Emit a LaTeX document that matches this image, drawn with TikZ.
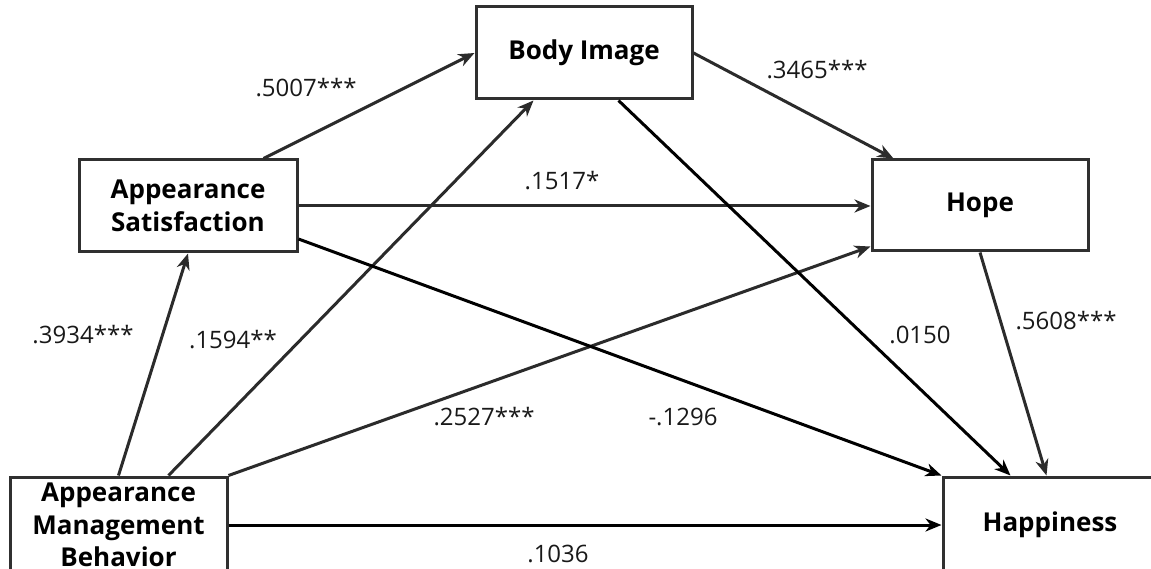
\documentclass[tikz,border=0pt]{standalone}
\usepackage{fontspec}
\setmainfont{Open Sans}
\usetikzlibrary{arrows.meta,calc}
\definecolor{boxc}{HTML}{303030}
\definecolor{linec}{HTML}{2B2B2B}
\begin{document}
\begin{tikzpicture}[x=1pt,y=-1pt,
  box/.style={draw=boxc, line width=3pt, fill=white, align=center,
    font=\fontsize{26}{32.5}\selectfont\bfseries, inner sep=0pt},
  arr/.style={-{Stealth[length=16pt,width=13pt,inset=5pt]}, line width=3pt, draw=linec},
  arrk/.style={arr, draw=black},
  lab/.style={font=\fontsize{24}{28}\selectfont, inner sep=0pt, text=black!90}]
\useasboundingbox (0,0) rectangle (1151,569);
\clip (0,0) rectangle (1151,569);
\fill[white] (0,0) rectangle (1151,569);

% boxes
\node[box, minimum width=216pt, minimum height=92pt] (BI) at (584,53) {Body Image};
\node[box, minimum width=218pt, minimum height=92pt] (AS) at (188,206) {Appearance\\Satisfaction};
\node[box, minimum width=216pt, minimum height=91pt] (HO) at (980,205.5) {Hope};
\node[box, minimum width=217pt, minimum height=96pt] (AMB) at (118.5,525) {Appearance\\Management\\Behavior};
\node[box, minimum width=214pt, minimum height=96pt] (HA) at (1050,525) {Happiness};

% connectors
\draw[arr] ([xshift=186pt]AS.north west) -- (BI.west);
\draw[arr] (BI.east) -- ([xshift=23pt]HO.north west);
\draw[arr] (AMB.north) -- (AS.south);
\draw[arr] ([xshift=160pt]AMB.north west) -- ([xshift=59pt]BI.south west);
\draw[arr] (AMB.north east) -- ([yshift=6pt]HO.south west);
\draw[arrk] (AMB.east) -- (AMB.east -| HA.west);
\draw[arr] (AS.east) -- (AS.east -| HO.west);
\draw[arrk] ([yshift=-33pt]AS.east) -- (HA.north west);
\draw[arrk] ([xshift=144pt]BI.south west) -- ([xshift=69pt]HA.north west);
\draw[arr] (HO.south) -- ([xshift=105pt]HA.north west);

% labels
\node[lab] (l1) at (306,88) {.5007***};
\node[lab] (l2) at (817,70) {.3465***};
\node[lab] (l3) at (562,181) {.1517*};
\node[lab] (l4) at (83,335) {.3934***};
\node[lab] (l5) at (233,340) {.1594**};
\node[lab] (l6) at (484,417) {.2527***};
\node[lab] (l7) at (683,417) {-.1296};
\node[lab] (l8) at (558,554) {.1036};
\node[lab] (l9) at (920,335) {.0150};
\node[lab] (l10) at (1066,321) {.5608***};
\end{tikzpicture}
\end{document}
